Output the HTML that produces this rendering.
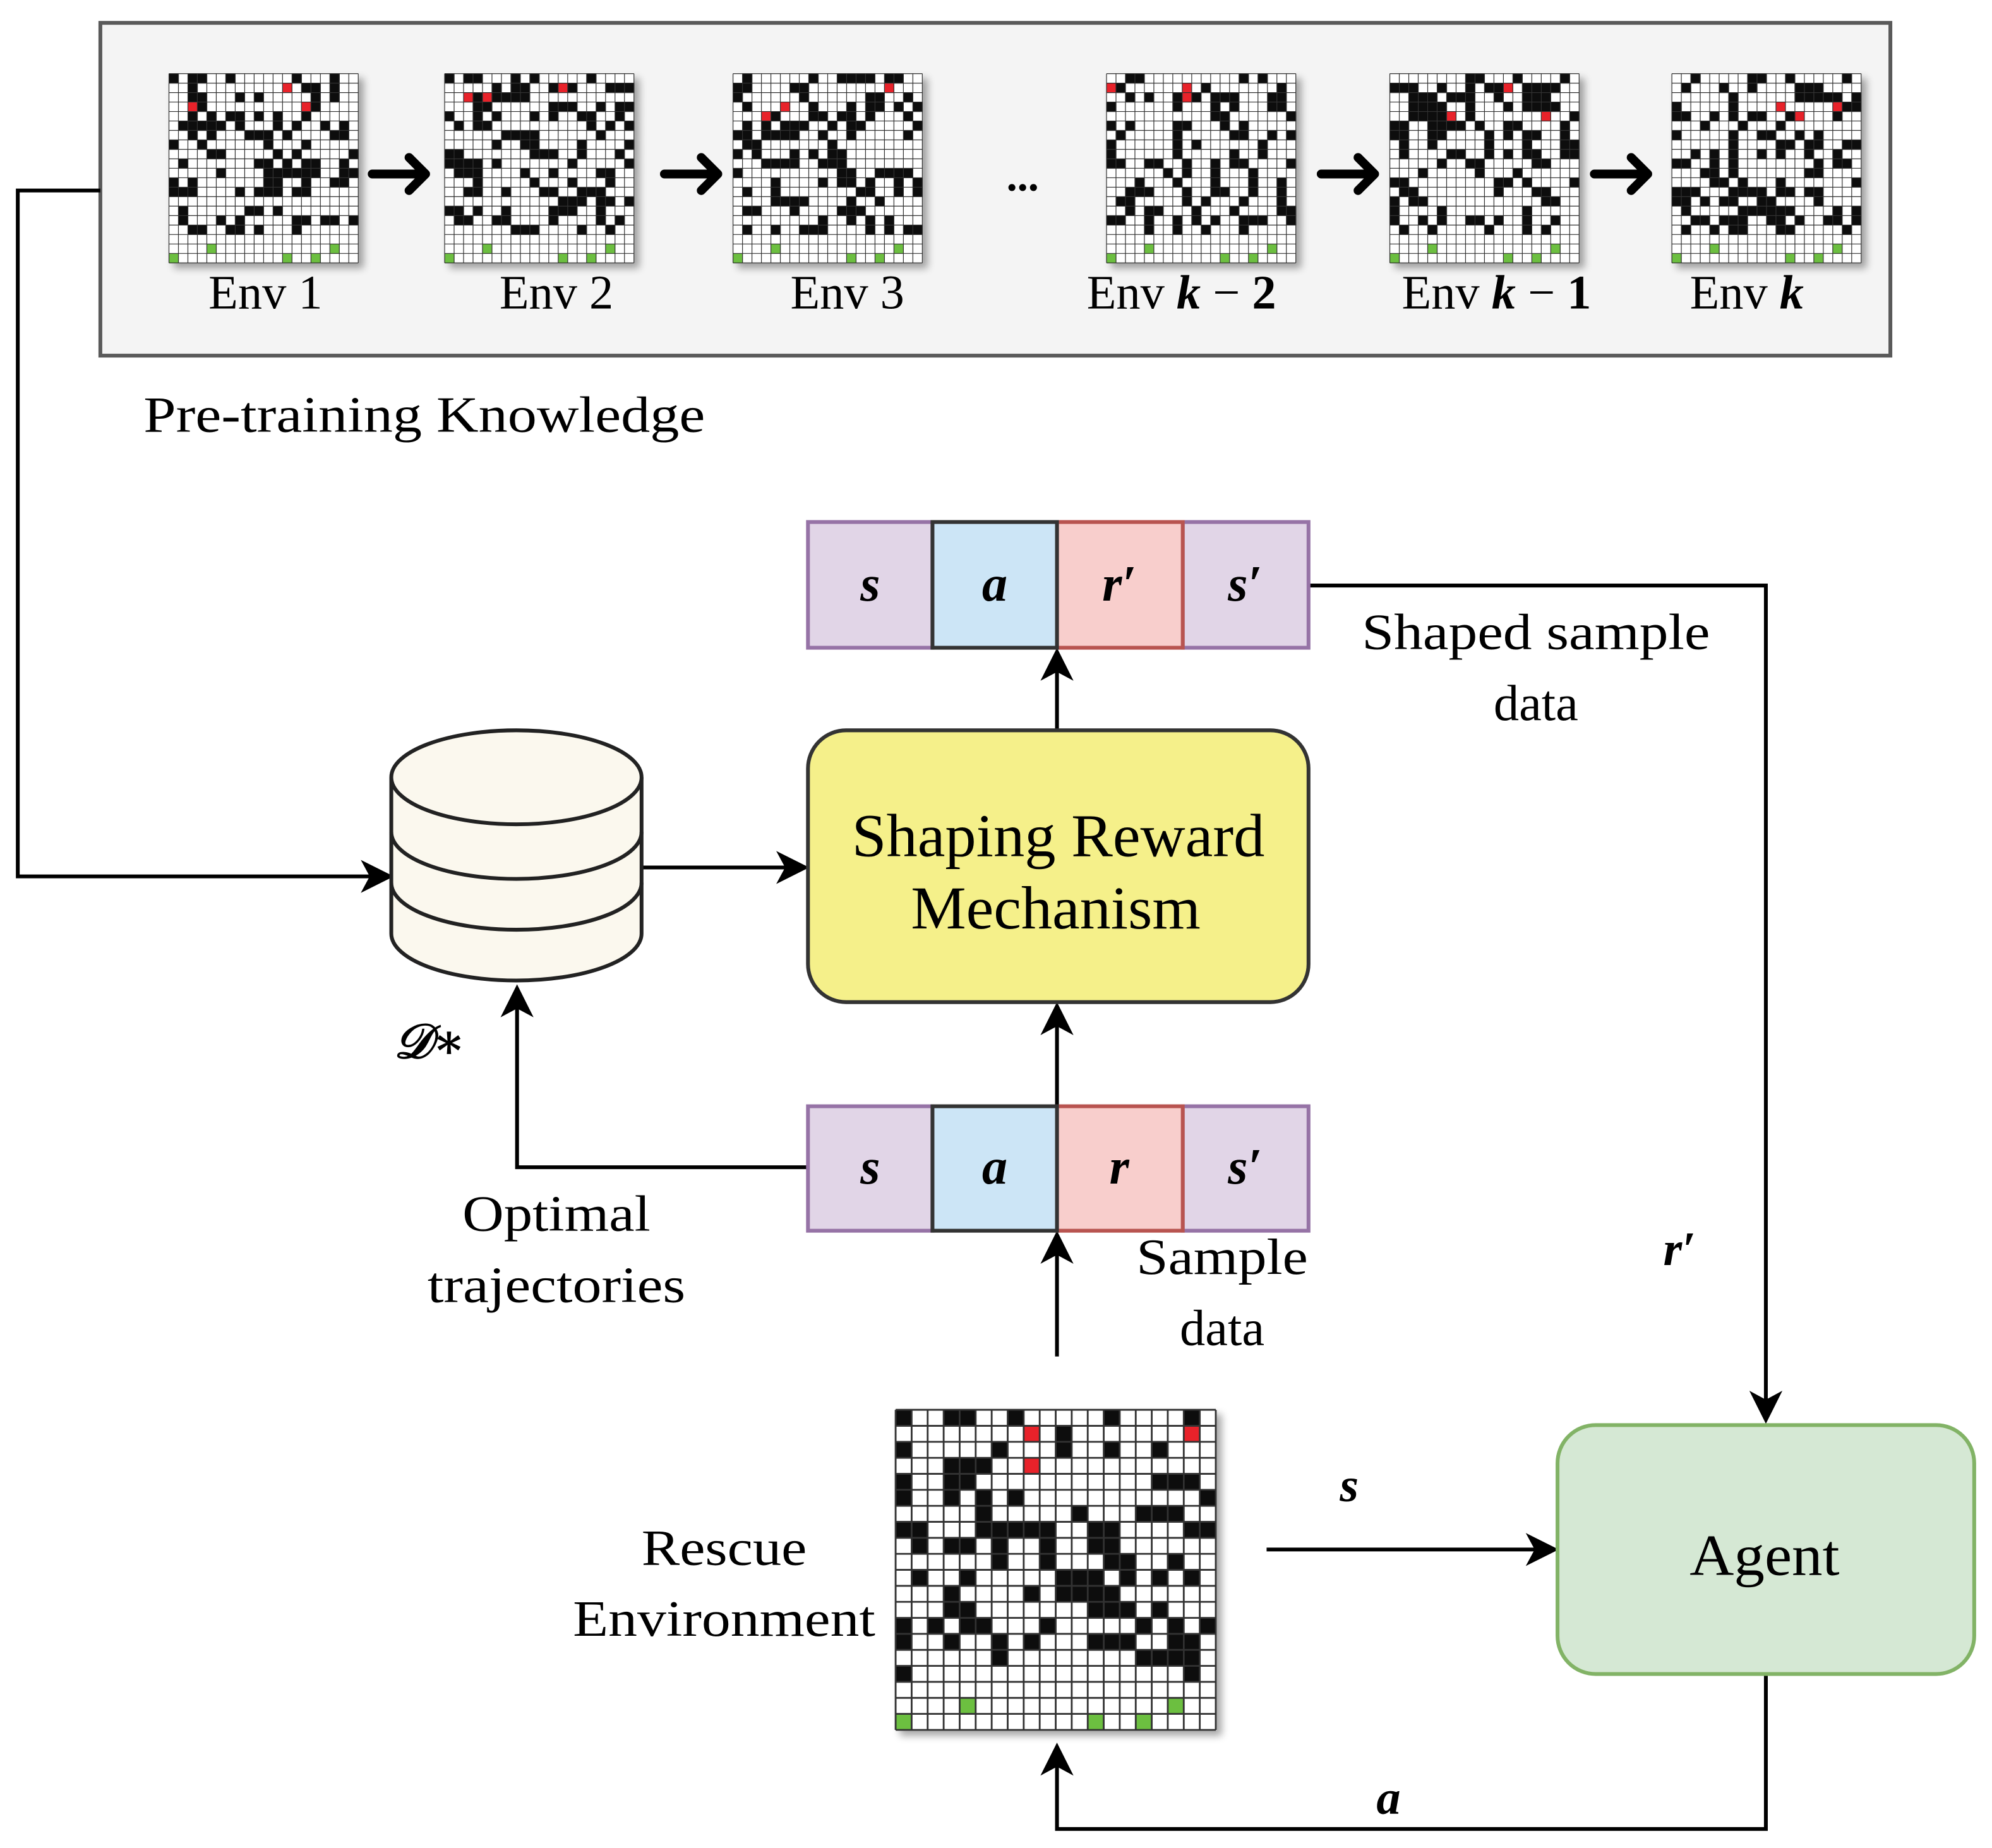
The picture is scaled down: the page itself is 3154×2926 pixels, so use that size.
<!DOCTYPE html>
<html><head><meta charset="utf-8">
<style>
html,body{margin:0;padding:0;background:#fff;}
svg{display:block;}
text{font-family:"Liberation Serif","DejaVu Serif",serif;fill:#000;}
.m{font-style:italic;font-weight:bold;}
</style></head>
<body>
<svg id="s" width="3154" height="2926" viewBox="0 0 1568 1455" preserveAspectRatio="none" xmlns="http://www.w3.org/2000/svg">
<defs>
<filter id="sh" x="-10%" y="-10%" width="130%" height="130%"><feGaussianBlur in="SourceAlpha" stdDeviation="3"/><feOffset dx="4" dy="4"/><feComponentTransfer><feFuncA type="linear" slope="0.35"/></feComponentTransfer><feMerge><feMergeNode/><feMergeNode in="SourceGraphic"/></feMerge></filter>
</defs>
<rect x="79" y="18" width="1409" height="262" fill="#f4f4f4" stroke="#5a5a5a" stroke-width="3"/>
<g id="grids"></g>
<g stroke="#000" stroke-width="7" stroke-linecap="round" stroke-linejoin="round" fill="none">
<path d="M293 137 H334 M322 124 L335 137 L322 150"/>
<path d="M523 137 H564 M552 124 L565 137 L552 150"/>
<path d="M1040 137 H1081 M1069 124 L1082 137 L1069 150"/>
<path d="M1255 137 H1296 M1284 124 L1297 137 L1284 150"/>
</g>
<text x="805" y="150" font-size="34" text-anchor="middle" font-weight="bold">...</text>
<g font-size="38" text-anchor="middle">
<text x="209" y="243">Env 1</text>
<text x="438" y="243">Env 2</text>
<text x="667" y="243">Env 3</text>
<text x="930" y="243">Env <tspan class="m">k</tspan> − <tspan font-weight="bold">2</tspan></text>
<text x="1178" y="243">Env <tspan class="m">k</tspan> − <tspan font-weight="bold">1</tspan></text>
<text x="1375" y="243">Env <tspan class="m">k</tspan></text>
</g>
<text x="113" y="340" font-size="40" textLength="442" lengthAdjust="spacingAndGlyphs">Pre-training Knowledge</text>

<g stroke="#000" stroke-width="3" fill="none">
<path d="M79 150 H14 V690 H300"/>
<path d="M505 683 H630"/>
<path d="M832 575 V516"/>
<path d="M1030 461 H1390 V1114"/>
<path d="M832 871 V795"/>
<path d="M636 919 H407 V781"/>
<path d="M832 1068 V975"/>
<path d="M997 1220 H1220"/>
<path d="M1390 1318 V1440 H832 V1378"/>
</g>
<g fill="#000">
<path d="M310 690 L284 677 L291 690 L284 703Z"/>
<path d="M637 683 L611 670 L618 683 L611 696Z"/>
<path d="M832 510 L819 536 L832 529 L845 536Z"/>
<path d="M1390 1121 L1377 1095 L1390 1102 L1403 1095Z"/>
<path d="M832 789 L819 815 L832 808 L845 815Z"/>
<path d="M407 775 L394 801 L407 794 L420 801Z"/>
<path d="M832 969 L819 995 L832 988 L845 995Z"/>
<path d="M1227 1220 L1201 1207 L1208 1220 L1201 1233Z"/>
<path d="M832 1372 L819 1398 L832 1391 L845 1398Z"/>
</g>

<g stroke="#222" stroke-width="3" fill="#fbf8ee">
<path d="M308 612 V735 A98.5 37 0 0 0 505 735 V612"/>
<path d="M308 695 A98.5 37 0 0 0 505 695" fill="none"/>
<path d="M308 655 A98.5 37 0 0 0 505 655" fill="none"/>
<ellipse cx="406.5" cy="612" rx="98.5" ry="37"/>
</g>
<text x="310" y="833" font-size="38" font-weight="bold" font-style="italic">𝒟∗</text>

<rect x="636" y="575" width="394" height="214" rx="30" fill="#f5f08a" stroke="#333" stroke-width="3"/>
<text x="833" y="674" font-size="48" text-anchor="middle" textLength="325" lengthAdjust="spacingAndGlyphs">Shaping Reward</text>
<text x="831" y="731" font-size="48" text-anchor="middle" textLength="228" lengthAdjust="spacingAndGlyphs">Mechanism</text>

<g stroke-width="3">
<rect x="636" y="411" width="98" height="99" fill="#e1d5e7" stroke="#9673a6"/>
<rect x="931" y="411" width="99" height="99" fill="#e1d5e7" stroke="#9673a6"/>
<rect x="832" y="411" width="99" height="99" fill="#f8cecc" stroke="#b85450"/>
<rect x="734" y="411" width="98" height="99" fill="#cce5f6" stroke="#333"/>
<rect x="636" y="871" width="98" height="98" fill="#e1d5e7" stroke="#9673a6"/>
<rect x="931" y="871" width="99" height="98" fill="#e1d5e7" stroke="#9673a6"/>
<rect x="832" y="871" width="99" height="98" fill="#f8cecc" stroke="#b85450"/>
<rect x="734" y="871" width="98" height="98" fill="#cce5f6" stroke="#333"/>
</g>
<g font-size="40" text-anchor="middle">
<text x="685" y="473" class="m">s</text>
<text x="783" y="473" class="m">a</text>
<text x="881" y="473" class="m">r′</text>
<text x="980" y="473" class="m">s′</text>
<text x="685" y="932" class="m">s</text>
<text x="783" y="932" class="m">a</text>
<text x="881" y="932" class="m">r</text>
<text x="980" y="932" class="m">s′</text>
</g>
<g font-size="40" text-anchor="middle">
<text x="1209" y="511" textLength="274" lengthAdjust="spacingAndGlyphs">Shaped sample</text>
<text x="1209" y="567">data</text>
<text x="438" y="969" textLength="148" lengthAdjust="spacingAndGlyphs">Optimal</text>
<text x="438" y="1025" textLength="203" lengthAdjust="spacingAndGlyphs">trajectories</text>
<text x="962" y="1003" textLength="135" lengthAdjust="spacingAndGlyphs">Sample</text>
<text x="962" y="1059">data</text>
<text x="570" y="1232" textLength="130" lengthAdjust="spacingAndGlyphs">Rescue</text>
<text x="570" y="1288" textLength="238" lengthAdjust="spacingAndGlyphs">Environment</text>
</g>
<text x="1322" y="996" font-size="38" text-anchor="middle" class="m">r′</text>
<text x="1062" y="1182" font-size="38" text-anchor="middle" class="m">s</text>
<text x="1093" y="1428" font-size="38" text-anchor="middle" class="m">a</text>

<rect x="1226" y="1122" width="328" height="196" rx="30" fill="#d5e8d4" stroke="#82b366" stroke-width="3"/>
<text x="1389" y="1240" font-size="46" text-anchor="middle" textLength="118" lengthAdjust="spacingAndGlyphs">Agent</text>
</svg>
<script>
(function(){
var NS="http://www.w3.org/2000/svg";
var g=document.getElementById("grids");
var seed=7;
function rnd(){seed=(seed*16807)%2147483647;return (seed-1)/2147483646;}
function grid(x0,y0,size,cells){
  var c=size/20;
  var gg=document.createElementNS(NS,"g");
  gg.setAttribute("filter","url(#sh)");
  var bg=document.createElementNS(NS,"rect");
  bg.setAttribute("x",x0);bg.setAttribute("y",y0);bg.setAttribute("width",size);bg.setAttribute("height",size);bg.setAttribute("fill","#fff");
  gg.appendChild(bg);
  for(var r=0;r<20;r++)for(var k=0;k<20;k++){
    var v=cells[r][k];
    if(v==="0")continue;
    var e=document.createElementNS(NS,"rect");
    e.setAttribute("x",x0+k*c);e.setAttribute("y",y0+r*c);e.setAttribute("width",c+0.3);e.setAttribute("height",c+0.3);
    e.setAttribute("fill",v==="1"?"#080808":(v==="R"?"#e8202a":"#6cbf40"));
    gg.appendChild(e);
  }
  var d="";
  for(var i=0;i<=20;i++){d+="M"+(x0+i*c)+" "+y0+"V"+(y0+size)+"M"+x0+" "+(y0+i*c)+"H"+(x0+size);}
  var p=document.createElementNS(NS,"path");
  p.setAttribute("d",d);p.setAttribute("stroke","#333");p.setAttribute("stroke-width",size>200?1.4:0.6);p.setAttribute("fill","none");
  gg.appendChild(p);
  g.appendChild(gg);
}
function randCells(){
  var a=[];
  for(var r=0;r<20;r++){var row="";for(var k=0;k<20;k++){row+=(r<17&&rnd()<0.33)?"1":"0";}a.push(row.split(""));}
  for(var i=0;i<3;i++){a[1+Math.floor(rnd()*4)][Math.floor(rnd()*20)]="R";}
  a[19][0]="G";a[18][4]="G";a[19][12]="G";a[19][15]="G";a[18][17]="G";
  return a;
}
var xs=[133,350,577,871,1094,1316];
for(var i=0;i<xs.length;i++)grid(xs[i],58,149,randCells());
var big=[
"10011001000001000010",
"00000000R0100000000R",
"10000010001001001000",
"00011100R00000000000",
"10011000000000001110",
"10010101000000000001",
"00000100000100011100",
"11000111110011000011",
"01011010010011000000",
"00000010010001100100",
"01001000001110101010",
"00010000101111000000",
"00011000000011101000",
"10101100010000010101",
"10010010100011100110",
"00000010000000011110",
"10000000000000000010",
"00000000000000000000",
"0000G000000000000G00",
"G00000000000G00G0000"];
var bc=big.map(function(s){return s.split("");});
bc[1][18]="R";bc[1][19]="0";
grid(705,1110,252,bc);
})();
</script>
</body></html>
